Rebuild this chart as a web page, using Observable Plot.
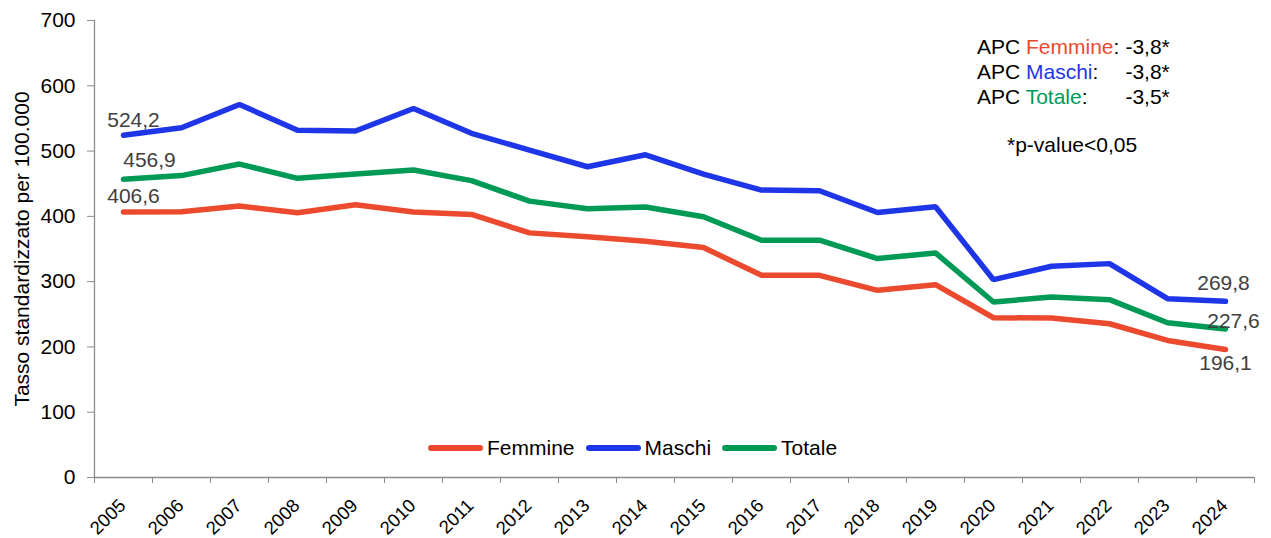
<!DOCTYPE html>
<html><head><meta charset="utf-8">
<script src="https://cdn.jsdelivr.net/npm/d3@7"></script>
<script src="https://cdn.jsdelivr.net/npm/@observablehq/plot@0.6"></script>
<style>
body{margin:0;background:#fff;font-family:"Liberation Sans",Arial,sans-serif}
#wrap{position:relative;width:1271px;height:538px;overflow:hidden}
#legend{position:absolute;left:428px;top:435px;font-size:21px;color:#000;white-space:nowrap;display:flex;align-items:center;line-height:26px}
#legend .it{display:flex;align-items:center;margin-right:11px}
#legend .sw{display:inline-block;width:55px;height:6px;border-radius:3px;margin-right:4px}
#apc{position:absolute;left:977px;top:34px;font-size:21px;color:#000;display:grid;grid-template-columns:auto auto;column-gap:6px;line-height:25px}
#apc .v{text-align:right}
#pval{position:absolute;left:1007px;top:132px;font-size:21px;line-height:25px;color:#000}
</style></head><body><div id="wrap"></div>
<script>
const years = [2005,2006,2007,2008,2009,2010,2011,2012,2013,2014,2015,2016,2017,2018,2019,2020,2021,2022,2023,2024];
const femmine = [406.6,407.2,415.7,405.6,417.8,406.6,403.0,374.7,368.6,362.0,352.2,309.7,309.7,286.7,295.4,244.7,244.2,235.5,209.9,196.1];
const maschi  = [524.2,535.8,571.3,531.8,530.8,565.2,527.2,501.4,476.0,494.3,464.8,440.2,439.2,405.9,414.6,303.0,323.5,327.6,273.9,269.8];
const totale  = [456.9,462.4,480.1,458.3,464.9,471.0,454.8,423.3,411.7,414.2,399.3,363.5,363.5,335.3,344.0,268.8,276.4,272.4,237.0,227.6];
const seriesNames = ["Femmine","Maschi","Totale"];
const seriesColors = ["#EC4A2E","#1E35E8","#009A57"];
const apcValues = ["-3,8*","-3,8*","-3,5*"];
const yTicks = [0,100,200,300,400,500,600,700];
const yLabel = "Tasso standardizzato per 100.000";
const pNote = "*p-value<0,05";

const seriesValues = [femmine, maschi, totale];
const rows = [];
seriesNames.forEach((s,i)=>years.forEach((y,j)=>rows.push({year:y, value:seriesValues[i][j], serie:s})));
const fmt = v => d3.format(".1f")(v).replace(".", ",");
const boundaries = years.map(y=>y-0.5).concat([years[years.length-1]+0.5]);

const endLabels = [
  {s:1, j:0, dx:10, dy:-15},
  {s:2, j:0, dx:26, dy:-19},
  {s:0, j:0, dx:10, dy:-16},
  {s:1, j:years.length-1, dx:-2, dy:-18},
  {s:2, j:years.length-1, dx:8, dy:-8},
  {s:0, j:years.length-1, dx:0, dy:14}
].map(d=>({year:years[d.j], value:seriesValues[d.s][d.j], label:fmt(seriesValues[d.s][d.j]), dx:d.dx, dy:d.dy}));

const plot = Plot.plot({
  width: 1271, height: 538,
  marginLeft: 94, marginRight: 17, marginTop: 20, marginBottom: 61,
  style: {fontFamily: '"Liberation Sans", Arial, sans-serif', background: "#fff", fontSize: "21px"},
  x: {domain: [years[0]-0.5, years[years.length-1]+0.5]},
  y: {domain: [0, 700]},
  marks: [
    Plot.ruleY([0], {stroke: "#8c8c8c", strokeWidth: 1.3}),
    Plot.ruleX([years[0]-0.5], {stroke: "#8c8c8c", strokeWidth: 1.3}),
    Plot.axisY({ticks: yTicks, tickSize: 7, tickPadding: 12, fontSize: 21, stroke: "#8c8c8c", fill: "#000", label: null, tickFormat: d=>d}),
    Plot.axisY({ticks: [], label: yLabel, labelAnchor: "center", labelArrow: "none", labelOffset: 80, fontSize: 21, fill: "#000", dy: 19}),
    Plot.axisX({ticks: boundaries, tickSize: 6, stroke: "#8c8c8c", tickFormat: () => "", label: null}),
    Plot.axisX({ticks: years, tickSize: 0, tickFormat: d => String(d), tickRotate: -45, fontSize: 18.5, fill: "#000", tickPadding: 25, dx: -1, label: null}),
    ...seriesNames.map((s,i)=>Plot.line(rows.filter(r=>r.serie===s), {x:"year", y:"value", stroke: seriesColors[i], strokeWidth: 5.5, strokeLinejoin: "miter", strokeLinecap: "round"})),
    ...endLabels.map(d=>Plot.text([d], {x:"year", y:"value", text:"label", dx:d.dx, dy:d.dy, fontSize: 21, fill: "#404040"}))
  ]
});
const wrap = document.getElementById("wrap");
wrap.appendChild(plot);

const legend = document.createElement("div");
legend.id = "legend";
seriesNames.forEach((s,i)=>{
  const it = document.createElement("div"); it.className = "it";
  const sw = document.createElement("span"); sw.className = "sw"; sw.style.background = seriesColors[i];
  const t = document.createElement("span"); t.textContent = s;
  it.appendChild(sw); it.appendChild(t); legend.appendChild(it);
});
wrap.appendChild(legend);

const apc = document.createElement("div");
apc.id = "apc";
seriesNames.forEach((s,i)=>{
  const a = document.createElement("div");
  a.innerHTML = `APC <span style="color:${seriesColors[i]}">${s}</span>:`;
  const v = document.createElement("div"); v.className = "v"; v.textContent = apcValues[i];
  apc.appendChild(a); apc.appendChild(v);
});
wrap.appendChild(apc);
const pv = document.createElement("div"); pv.id = "pval"; pv.textContent = pNote;
wrap.appendChild(pv);
</script></body></html>
